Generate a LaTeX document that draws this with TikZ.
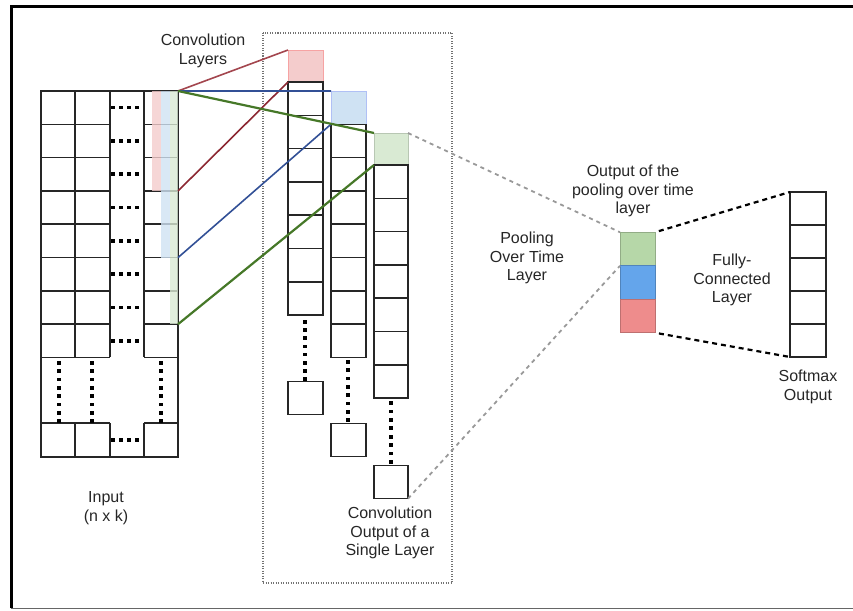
\documentclass[tikz,border=0pt]{standalone}
\usepackage{fontspec}
\setmainfont{Liberation Sans}
\definecolor{lpink}{RGB}{244,204,204}
\definecolor{lblue}{RGB}{207,226,243}
\definecolor{lgreen}{RGB}{217,234,211}
\definecolor{mgreen}{RGB}{182,215,168}
\definecolor{mblue}{RGB}{100,165,235}
\definecolor{mpink}{RGB}{238,140,140}
\definecolor{lnred}{RGB}{140,40,50}
\definecolor{lnblue}{RGB}{50,80,150}
\definecolor{lngreen}{RGB}{70,120,40}
\newcommand\myhdots[2]{\foreach \jj in {0,...,3}{\fill ({#1+\jj*8-1.8},{#2-1.8}) rectangle ++(3.6,3.6);}}
\newcommand\myvdots[3]{\foreach \jj in {0,...,7}{\fill ({#1-1.8},{#2+\jj*(#3-#2)/7-1.8}) rectangle ++(3.6,3.6);}}
\begin{document}
\begin{tikzpicture}[x=1pt,y=-1pt,
  grid/.style={draw=black!85,line width=1.5pt},
  cbox/.style={rectangle,inner sep=0pt,outer sep=0pt,minimum width=35pt,minimum height=33.3pt},
  lbl/.style={align=center,text=black!85,font=\fontsize{16}{18.5}\selectfont},
  cline/.style={line width=1.6pt},
  gdash/.style={draw=black!40,line width=1.8pt,dash pattern=on 4pt off 4pt},
  bdash/.style={draw=black,line width=2.2pt,dash pattern=on 5pt off 4pt}]
\useasboundingbox (0,0) rectangle (853,610);
% frame
\draw[line width=3pt,black] (11,608) -- (11,7) -- (856,7);
\draw[line width=1.5pt,black!60] (11,608.5) -- (856,608.5);
% dotted container
\draw[draw=black!55,line width=1.3pt,dash pattern=on 1pt off 1.5pt] (263,33) rectangle (452,583);
% input grid
\draw[grid] (41,91) rectangle (178,457);
\foreach \x in {75,110,144} {\draw[grid] (\x,91) -- (\x,357.4); \draw[grid] (\x,423) -- (\x,457);}
\foreach \k in {1,...,8} {\draw[grid] (41,{91+33.3*\k}) -- (110,{91+33.3*\k}); \draw[grid] (144,{91+33.3*\k}) -- (178,{91+33.3*\k});}
\draw[grid] (41,423) -- (110,423); \draw[grid] (144,423) -- (178,423);
\foreach \k in {0,...,7} {\myhdots{113}{107.6+33.3*\k}}
\myhdots{113}{440}
\myvdots{59}{363}{421}
\myvdots{92}{363}{421}
\myvdots{161}{363}{421}
% strips
\fill[lpink,fill opacity=0.8] (152,91) rectangle (161,191);
\fill[lblue,fill opacity=0.8] (161,91) rectangle (169.5,257.6);
\fill[lgreen,fill opacity=0.8] (169.5,91) rectangle (178,324.2);
\coordinate (inTop) at (178,91);
\coordinate (inRed) at (178,191);
\coordinate (inBlue) at (178,257.6);
\coordinate (inGreen) at (178,324.2);
% conv column 1
\node[cbox,fill=lpink,draw=lpink!80!red,line width=0.8pt,minimum height=32pt] (c1) at (305.5,66) {};
\foreach \k in {0,...,6} {\draw[grid] (288,{82+33.3*\k}) rectangle (323,{82+33.3*(\k+1)});}
\node[cbox,grid] (c1last) at (305.5,398) {};
\myvdots{305}{322}{379}
% conv column 2
\node[cbox,fill=lblue,draw=lblue!85!blue,line width=0.8pt] (c2) at (348.5,107.6) {};
\foreach \k in {0,...,6} {\draw[grid] (331,{124.3+33.3*\k}) rectangle (366,{124.3+33.3*(\k+1)});}
\node[cbox,grid] (c2last) at (348.5,440) {};
\myvdots{348}{362}{420}
% conv column 3
\node[cbox,fill=lgreen,draw=lgreen!85!black,line width=0.8pt,minimum width=34pt,minimum height=32pt] (c3) at (391,149) {};
\foreach \k in {0,...,6} {\draw[grid] (374,{165+33.3*\k}) rectangle (408,{165+33.3*(\k+1)});}
\node[cbox,grid,minimum width=34pt] (c3last) at (391,482) {};
\myvdots{391}{403}{462}
% coloured connectors
\draw[cline,draw=lnred!80!pink] (inTop) -- (c1.north west);
\draw[cline,draw=lnred] (inRed) -- (c1.south west);
\draw[cline,draw=lnblue] (inTop) -- (c2.north west);
\draw[cline,draw=lnblue] (inBlue) -- (c2.south west);
\draw[line width=2.2pt,draw=lngreen] (inTop) -- (c3.north west);
\draw[line width=2.2pt,draw=lngreen] (inGreen) -- (c3.south west);
% pooling output
\node[cbox,fill=mgreen,draw=mgreen!80!black,line width=0.8pt,minimum height=33.5pt] (pg) at (637.5,249) {};
\node[cbox,fill=mblue,draw=mblue!80!black,line width=0.8pt,minimum height=33.5pt] (pb) at (637.5,282.5) {};
\node[cbox,fill=mpink,draw=mpink!80!black,line width=0.8pt,minimum height=33.5pt] (pp) at (637.5,316) {};
% softmax
\node[cbox,minimum width=36pt,minimum height=165pt] (sm) at (808,274.5) {};
\foreach \k in {0,...,4} {\draw[grid] (790,{192+33*\k}) rectangle (826,{192+33*(\k+1)});}
% dashed connectors
\draw[gdash] (c3.north east) -- (pg.north west);
\draw[gdash] (c3last.south east) -- (pb.north west);
\draw[bdash,shorten <=4pt] (pg.north east) -- (sm.north west);
\draw[bdash,shorten <=4pt] (pp.south east) -- (sm.south west);
% labels
\node[lbl] (tconv) at (203,51) {Convolution\\Layers};
\node[lbl] (tin) at (106,508) {Input\\(n x k)};
\node[lbl] (tcout) at (390,533) {Convolution\\Output of a\\Single Layer};
\node[lbl] (tpout) at (633,191) {Output of the\\pooling over time\\layer};
\node[lbl] (tpool) at (527,258) {Pooling\\Over Time\\Layer};
\node[lbl] (tfc) at (732,280) {Fully-\\Connected\\Layer};
\node[lbl] (tsm) at (808,387) {Softmax\\Output};
\end{tikzpicture}
\end{document}
